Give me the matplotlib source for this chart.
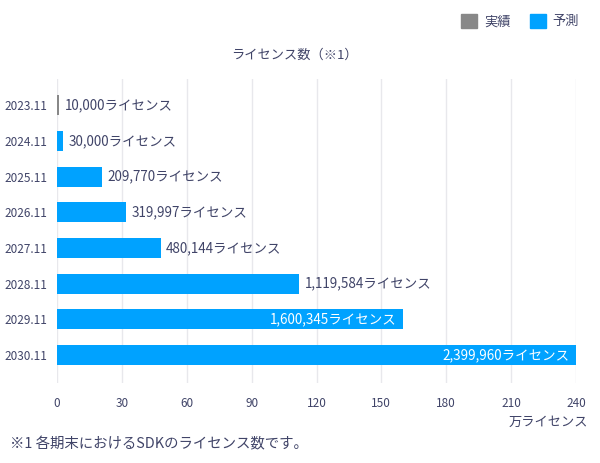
import matplotlib.pyplot as plt
from matplotlib.patches import Patch

plt.rcParams['font.family'] = ['Noto Sans CJK JP', 'DejaVu Sans']

# データ（単位: ライセンス）
periods = ['2023.11', '2024.11', '2025.11', '2026.11', '2027.11', '2028.11', '2029.11', '2030.11']
licenses = [10000, 30000, 209770, 319997, 480144, 1119584, 1600345, 2399960]
kinds = ['実績', '予測', '予測', '予測', '予測', '予測', '予測', '予測']
inside_label = [False, False, False, False, False, False, True, True]

COLORS = {'実績': '#888888', '予測': '#00a2ff'}
TEXT = '#404468'

fig = plt.figure(figsize=(6, 4.63), dpi=100)
ax = fig.add_axes([0.095, 0.173, 0.865, 0.656])

values = [v / 10000 for v in licenses]
ypos = list(range(len(periods)))
ax.barh(ypos, values, height=0.56, color=[COLORS[k] for k in kinds], zorder=2)

for y, v, n, inside in zip(ypos, values, licenses, inside_label):
    label = f'{n:,}ライセンス'
    if inside:
        ax.text(v - 3, y, label, ha='right', va='center', color='white', fontsize=9.7, zorder=3)
    else:
        ax.text(v + 2.5, y, label, ha='left', va='center', color=TEXT, fontsize=9.7, zorder=3)

ax.set_xlim(0, 240)
ax.set_ylim(7.78, -0.73)
ax.set_xticks(range(0, 241, 30))
ax.set_yticks(ypos)
ax.set_yticklabels(periods)
ax.tick_params(axis='x', length=0, labelsize=8.5, colors=TEXT, pad=10)
ax.tick_params(axis='y', length=0, labelsize=8.5, colors=TEXT, pad=7)
ax.grid(axis='x', color='#e8e8ec', linewidth=1, zorder=0)
for s in ax.spines.values():
    s.set_visible(False)

fig.text(0.49, 0.88, 'ライセンス数（※1）', ha='center', va='center', fontsize=9.5, color=TEXT)
fig.text(0.98, 0.088, '万ライセンス', ha='right', va='center', fontsize=9.5, color=TEXT)
fig.text(0.017, 0.041, '※1 各期末におけるSDKのライセンス数です。', ha='left', va='center', fontsize=10.4, color=TEXT)

handles = [Patch(color=COLORS['実績'], label='実績'), Patch(color=COLORS['予測'], label='予測')]
fig.legend(handles=handles, loc='upper right', bbox_to_anchor=(0.985, 0.995), ncol=2, frameon=False,
           fontsize=9.5, handlelength=1.2, handleheight=1.2, columnspacing=1.5, handletextpad=0.5,
           labelcolor=TEXT)

plt.savefig('out.png', dpi=100)
